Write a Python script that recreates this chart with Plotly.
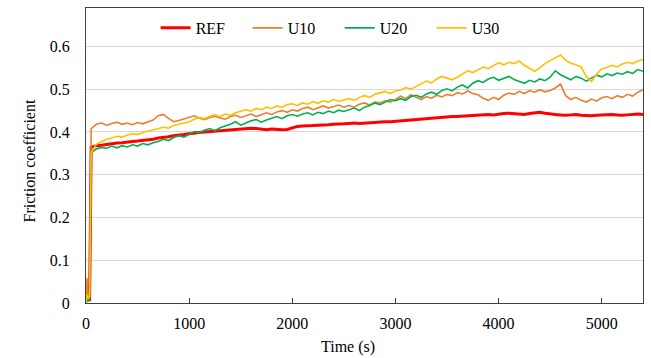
import plotly.graph_objects as go

# Sampling times (s): start-up transient, then every 50 s up to 5400 s
time_s = [0, 10, 20, 35] + list(range(50, 5401, 50))

ref = [0.005, 0.042, 0.012, 0.005,
       .364, .368, .369, .371, .372, .374, .375, .377, .378, .379,
       .380, .382, .383, .386, .387, .389, .391, .392, .394, .396,
       .398, .399, .400, .401, .402, .402, .403, .404, .406, .407,
       .408, .409, .408, .406, .405, .407, .406, .405, .406, .410,
       .413, .414, .414, .415, .416, .416, .417, .418, .418, .419,
       .420, .421, .420, .421, .422, .422, .423, .424, .424, .425,
       .426, .427, .428, .430, .431, .432, .433, .434, .434, .435,
       .436, .436, .437, .438, .438, .439, .440, .441, .440, .442,
       .443, .444, .443, .442, .441, .443, .444, .446, .444, .442,
       .441, .440, .439, .440, .441, .439, .438, .438, .439, .440,
       .440, .441, .440, .439, .440, .441, .442, .441]

u10 = [0.0, 0.058, 0.02, 0.01,
       .408, .418, .421, .416, .420, .423, .418, .421, .417, .422,
       .419, .424, .428, .438, .441, .432, .424, .427, .431, .435,
       .438, .432, .429, .434, .437, .433, .430, .436, .439, .434,
       .438, .442, .436, .440, .445, .441, .447, .450, .446, .452,
       .449, .455, .458, .452, .457, .461, .456, .460, .463, .458,
       .462, .458, .465, .468, .463, .470, .468, .473, .470, .476,
       .484, .478, .487, .481, .476, .483, .479, .486, .482, .488,
       .485, .492, .489, .496, .490, .487, .479, .474, .481, .476,
       .486, .491, .488, .495, .490, .497, .493, .499, .494, .497,
       .503, .512, .485, .476, .481, .474, .470, .477, .472, .480,
       .483, .478, .485, .481, .488, .484, .493, .499]

u20 = [0.0, 0.01, 0.005, 0.01,
       .352, .360, .364, .362, .367, .363, .368, .365, .370, .367,
       .373, .370, .375, .378, .383, .380, .387, .391, .388, .395,
       .401, .398, .404, .408, .403, .410, .414, .418, .424, .416,
       .421, .426, .429, .423, .428, .432, .436, .431, .438, .441,
       .437, .442, .445, .440, .446, .443, .449, .445, .451, .448,
       .452, .456, .450, .458, .462, .468, .464, .471, .476, .473,
       .478, .474, .483, .486, .481, .489, .493, .488, .497, .501,
       .496, .505, .510, .503, .514, .520, .516, .524, .528, .521,
       .526, .530, .523, .518, .514, .521, .517, .524, .520, .528,
       .543, .534, .528, .522, .530, .526, .519, .527, .533, .529,
       .536, .532, .538, .535, .541, .537, .546, .542]

u30 = [0.0, 0.02, 0.01, 0.015,
       .352, .371, .377, .383, .386, .390, .388, .393, .396, .394,
       .399, .402, .405, .408, .411, .409, .415, .418, .421, .424,
       .430, .434, .431, .437, .440, .436, .442, .439, .445, .448,
       .452, .449, .455, .452, .458, .455, .461, .458, .464, .466,
       .462, .468, .465, .471, .467, .473, .470, .476, .472, .475,
       .478, .474, .481, .485, .481, .488, .492, .495, .490, .496,
       .498, .504, .500, .507, .513, .519, .515, .524, .530, .526,
       .522, .528, .535, .543, .539, .546, .552, .548, .556, .562,
       .557, .563, .560, .566, .556, .548, .542, .550, .560, .567,
       .574, .580, .568, .561, .557, .552, .530, .518, .535, .548,
       .551, .556, .552, .559, .563, .560, .566, .569]

series_names = ["REF", "U10", "U20", "U30"]
series_values = [ref, u10, u20, u30]
series_colors = ["#FF0000", "#ED7D31", "#00B050", "#FFC000"]
series_widths = [3, 1.6, 1.6, 1.6]

FONT = "Liberation Serif"

fig = go.Figure()
for name, vals, color, width in zip(series_names, series_values, series_colors, series_widths):
    fig.add_trace(go.Scatter(
        x=time_s, y=vals, mode="lines", name=name,
        line=dict(color=color, width=width),
    ))

fig.update_layout(
    width=651, height=358,
    margin=dict(l=86, r=8, t=8, b=55),
    paper_bgcolor="white", plot_bgcolor="white",
    font=dict(family=FONT, size=16, color="black"),
    showlegend=True,
    legend=dict(
        orientation="h", x=0.125, y=0.99, xanchor="left", yanchor="top",
        bgcolor="rgba(0,0,0,0)", font=dict(family=FONT, size=16),
        itemwidth=30, entrywidth=47, entrywidthmode="pixels",
    ),
    annotations=[
        dict(text="Time (s)", xref="paper", yref="paper", x=0.47, y=0,
             yshift=-44, showarrow=False, xanchor="center", yanchor="middle",
             font=dict(family=FONT, size=16)),
        dict(text="Friction coefficient", xref="paper", yref="paper", x=0, y=0.48,
             xshift=-57, showarrow=False, textangle=-90, xanchor="center",
             yanchor="middle", font=dict(family=FONT, size=16)),
    ],
)

fig.update_xaxes(
    range=[0, 5400], dtick=1000, tick0=0, showgrid=False, zeroline=False,
    showline=True, linecolor="#404040", linewidth=1, mirror=True,
    ticks="inside", ticklen=5, tickcolor="#404040",
    ticklabelstandoff=6, tickfont=dict(family=FONT, size=16),
)
fig.update_yaxes(
    range=[0, 0.69], dtick=0.1, tick0=0, showgrid=True, gridcolor="#D9D9D9",
    gridwidth=1, zeroline=False,
    showline=True, linecolor="#404040", linewidth=1, mirror=True,
    ticks="", ticklabelstandoff=12, tickfont=dict(family=FONT, size=16),
)

fig.write_html("out.html")
